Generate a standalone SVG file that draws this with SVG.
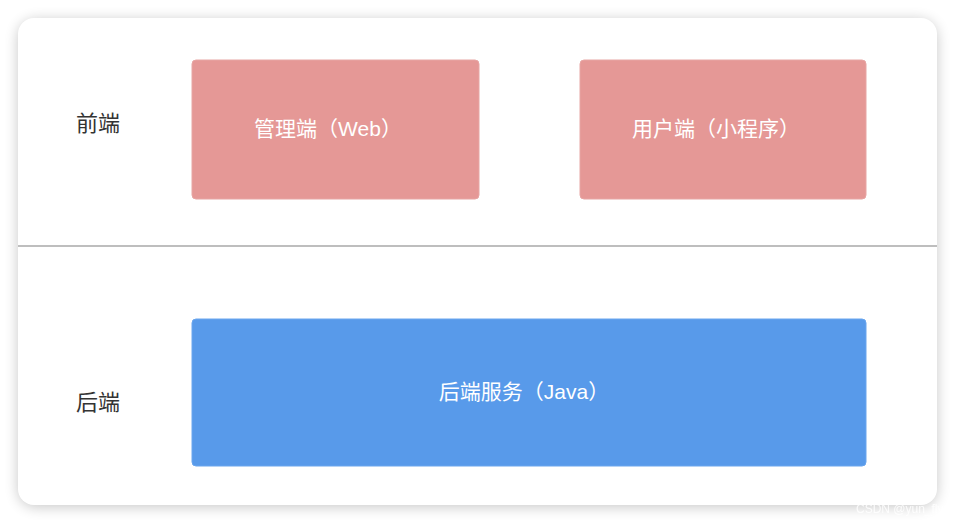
<svg xmlns="http://www.w3.org/2000/svg" width="955" height="524" viewBox="0 0 955 524">
<defs>
<filter id="sh" x="-10%" y="-10%" width="120%" height="120%"><feGaussianBlur stdDeviation="7"/></filter>
<style>
.lbl{font-family:"PingFang SC","Noto Sans CJK SC",sans-serif;font-size:22px;fill:#333}
.nt{font-family:"Liberation Sans","Noto Sans CJK SC",sans-serif;font-size:21px;fill:#fff}
.pink{fill:#e59896;stroke:#e7a6a4;stroke-width:1}
</style>
</defs>
<rect width="955" height="524" fill="#fff"/>
<rect x="18" y="20" width="919" height="487" rx="18" fill="#000" opacity="0.22" filter="url(#sh)"/>
<rect x="18" y="18" width="919" height="487" rx="16" fill="#fff"/>
<line x1="18" y1="246" x2="937" y2="246" stroke="#a8a8a8" stroke-width="1.5"/>
<text class="lbl" x="98" y="131" text-anchor="middle">前端</text>
<text class="lbl" x="98" y="410" text-anchor="middle">后端</text>
<g id="web"><rect class="pink" x="192" y="60" width="287" height="139" rx="4"/><text class="nt" x="328" y="136" text-anchor="middle">管理端（Web）</text></g>
<g id="mini"><rect class="pink" x="580" y="60" width="286" height="139" rx="4"/><text class="nt" x="716" y="136" text-anchor="middle">用户端（小程序）</text></g>
<g id="java"><rect x="192" y="319" width="674" height="147" rx="4" fill="#589aea" stroke="#6aa6ee"/><text class="nt" x="524" y="399" text-anchor="middle">后端服务（Java）</text></g>
<g id="connectors"/>
<text x="856" y="513" font-family="Liberation Sans,sans-serif" font-size="12" fill="#fff" opacity="0.85">CSDN @yun_fly</text>
</svg>
